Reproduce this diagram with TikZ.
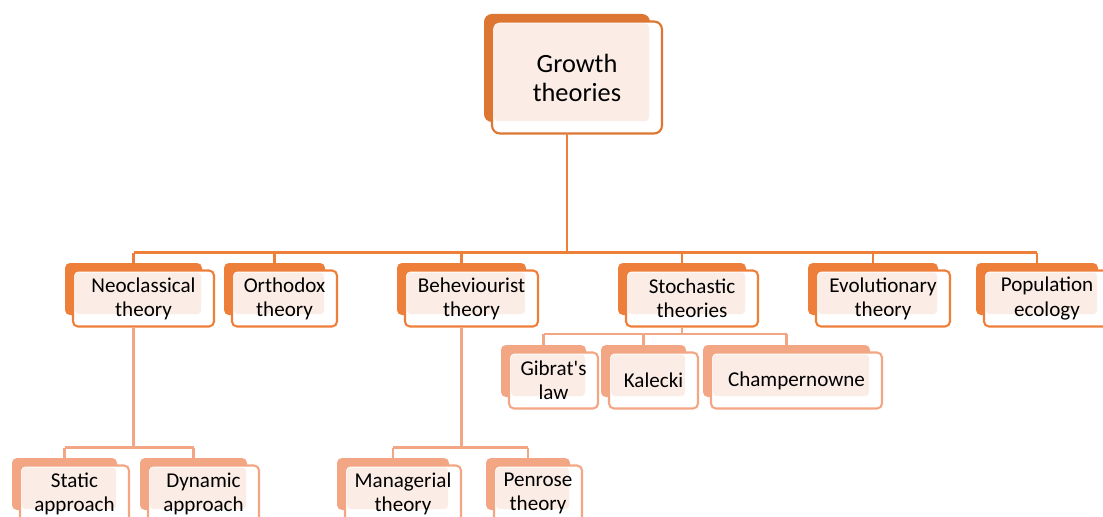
\documentclass[tikz,border=0pt]{standalone}
\usepackage{fontspec}
\setmainfont{Carlito}[Ligatures=TeXOff]
\definecolor{rootor}{HTML}{DE7633}
\definecolor{mainor}{HTML}{EE7F3B}
\definecolor{subor}{HTML}{F3A683}
\definecolor{paleor}{HTML}{FBECE5}
\def\u{0.02cm}
\tikzset{
  backbox/.style={rectangle, rounded corners=2.8pt, inner sep=0pt, outer sep=0pt},
  frontbox/.style={rectangle, rounded corners=2.8pt, inner sep=0pt, outer sep=0pt, fill=white, line width=1.2pt},
  lbl/.style={align=center, inner sep=0pt, font=\fontsize{12}{13.7}\selectfont},
  rootlbl/.style={align=center, inner sep=0pt, font=\fontsize{15}{16.5}\selectfont},
  link/.style={line width=1.3pt, draw=mainor},
  sublink/.style={line width=1.3pt, draw=subor},
}
% #1 extra options, #2 name, #3 x, #4 y (centre of back box), #5 width, #6 height, #7 colour
\newcommand{\gbox}[7][]{%
  \node[backbox, fill=#7, minimum width=#5*\u, minimum height=#6*\u, #1] (#2-b) at (#3,#4) {};
  \node[frontbox, draw=#7, minimum width=#5*\u+4*\u, minimum height=#6*\u+4*\u, #1] (#2-f) at ([shift={(10,9.5)}]#2-b.center) {};
  \fill[paleor, rounded corners=2pt] ([shift={(2,2)}]#2-f.north west) rectangle ([shift={(-1,-1)}]#2-b.south east);
}
\begin{document}
\begin{tikzpicture}[x=0.02cm, y=-0.02cm]
\useasboundingbox (0,0) rectangle (1103,517);
\clip (0,0) rectangle (1103,517);

% root
\gbox[rounded corners=4.5pt]{growth}{567}{68}{166}{108}{rootor}
\node[rootlbl] (growth) at (growth-f) {Growth\\theories};

% first level
\gbox{neo}{133.5}{289}{137}{52}{mainor}
\gbox{orth}{274.5}{289}{101}{52}{mainor}
\gbox{behav}{461.5}{289}{129}{52}{mainor}
\gbox{stoch}{682}{289}{128}{52}{mainor}
\gbox{evol}{873}{289}{130}{52}{mainor}
\gbox{pop}{1037}{289}{122}{52}{mainor}
\node[lbl] (neo) at (neo-f) {Neoclassical\\theory};
\node[lbl] (orth) at (orth-f) {Orthodox\\theory};
\node[lbl] (behav) at (behav-f) {Beheviourist\\theory};
\node[lbl] (stoch) at (stoch-f) {Stochastic\\theories};
\node[lbl] (evol) at (evol-f) {Evolutionary\\theory};
\node[lbl] (pop) at (pop-f) {Population\\ecology};

% stochastic theories
\gbox{gib}{543.5}{371}{85}{52}{subor}
\gbox{kal}{643.5}{371}{85}{52}{subor}
\gbox{cha}{786.5}{371}{167}{52}{subor}
\node[lbl] (gib) at (gib-f) {Gibrat's\\law};
\node[lbl] (kal) at (kal-f) {Kalecki};
\node[lbl] (cha) at (cha-f) {Champernowne};

% neoclassical and behaviourist
\gbox{stat}{64.5}{484}{105}{52}{subor}
\gbox{dyn}{193.5}{484}{107}{52}{subor}
\gbox{mgr}{393}{484}{112}{52}{subor}
\gbox{pen}{528}{484}{84}{52}{subor}
\node[lbl] (stat) at (stat-f) {Static\\approach};
\node[lbl] (dyn) at (dyn-f) {Dynamic\\approach};
\node[lbl] (mgr) at (mgr-f) {Managerial\\theory};
\node[lbl] (pen) at (pen-f) {Penrose\\theory};

% connectors
\coordinate (busA) at (0,252.5);
\coordinate (busB) at (0,447.5);
\coordinate (busC) at (0,334);
\draw[link] (growth-b |- growth-f.south) -- (growth-b |- busA);
\draw[link] (neo-b |- busA) -- (pop-b |- busA);
\foreach \n in {neo,orth,behav,stoch,evol,pop}
  \draw[link] (\n-b |- busA) -- (\n-b.north);

\draw[sublink] (neo-b |- neo-f.south) -- (neo-b |- busB);
\draw[sublink] (stat-b |- busB) -- (dyn-b |- busB);
\draw[sublink] (behav-b |- behav-f.south) -- (behav-b |- busB);
\draw[sublink] (mgr-b |- busB) -- (pen-b |- busB);
\foreach \n in {stat,dyn,mgr,pen}
  \draw[sublink] (\n-b |- busB) -- (\n-b.north);

\draw[sublink] (stoch-b |- stoch-f.south) -- (stoch-b |- busC);
\draw[sublink] (gib-b |- busC) -- (cha-b |- busC);
\foreach \n in {gib,kal,cha}
  \draw[sublink] (\n-b |- busC) -- (\n-b.north);
\end{tikzpicture}
\end{document}
